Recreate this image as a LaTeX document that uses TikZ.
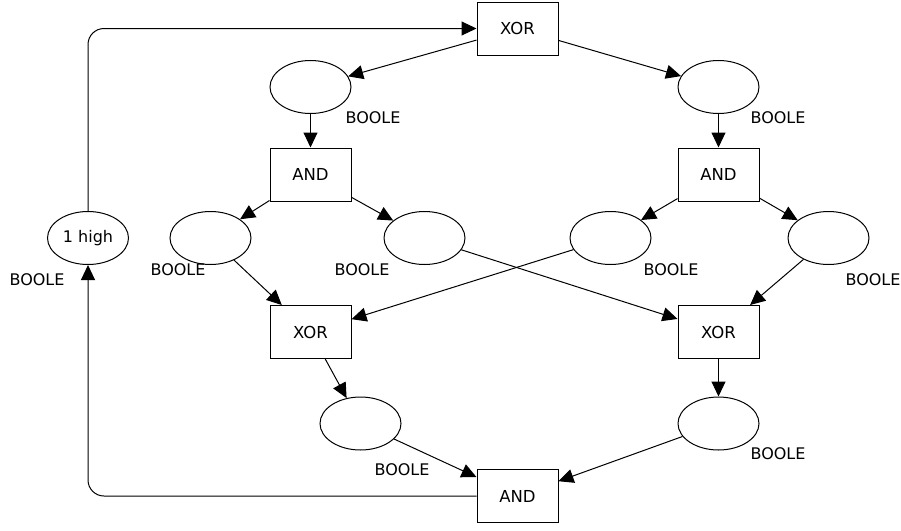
\documentclass[tikz,border=0pt]{standalone}
\usepackage{fontspec}
\setmainfont{DejaVu Sans}
\usetikzlibrary{arrows.meta,shapes.geometric}
\begin{document}
\begin{tikzpicture}
[x=1pt,y=-1pt,
  placedecorate/.style={shape=ellipse,minimum width=81pt,minimum height=53pt,
    inner sep=0pt,draw,line width=1pt,font=\fontsize{16}{18}\selectfont},%
  transdecorate/.style={shape=rectangle,minimum width=81pt,minimum height=53pt,
    inner sep=0pt,draw,line width=1pt,font=\fontsize{16.5}{18}\selectfont},%
  labeldecorate/.style={inner sep=0pt,font=\fontsize{16}{18}\selectfont},%
  linedecorate/.style={-{Triangle[length=15pt,width=14pt]},line width=1pt}]
\useasboundingbox (0,0) rectangle (901,530);
%% transitions
\foreach \nodename/\x/\y/\txt in {xortop/517.5/28.5/XOR, andl/310.5/174.5/AND,
  andr/718.5/174.5/AND, xorl/310.5/332/XOR, xorr/718.5/332/XOR,
  andbot/517.5/496/AND} {
  \node (\nodename) at (\x,\y) [transdecorate] {\txt};
}
%% places
\foreach \nodename/\x/\y/\txt in {high/88/238/1 high, pa/310.5/87/, pb/718.5/87/,
  pc/210.5/238/, pd/424.5/238/, pe/610.5/238/, pf/828.5/238/,
  pg/360.5/423.5/, ph/718.5/423.5/} {
  \node (\nodename) at (\x,\y) [placedecorate] {\txt};
}
%% place labels
\foreach \nodename/\x/\y in {lhigh/37/280, la/373/118, lb/778/118, lc/178/270,
  ld/362/270, le/671/270, lf/873/280, lg/402/470, lh/778/454} {
  \node (\nodename) at (\x,\y) [labeldecorate] {BOOLE};
}
%% arcs
\path
\foreach \startnode/\endnode in {xortop/pa, xortop/pb, pa/andl, pb/andr,
  andl/pc, andl/pd, andr/pe, andr/pf, pc/xorl, pd/xorr, pe/xorl, pf/xorr,
  xorl/pg, xorr/ph, pg/andbot, ph/andbot} {
  (\startnode) edge[linedecorate] (\endnode)
};
\draw[linedecorate,rounded corners=16pt] (andbot) -| (high);
\draw[linedecorate,rounded corners=16pt] (high) |- (xortop);
\end{tikzpicture}
\end{document}
